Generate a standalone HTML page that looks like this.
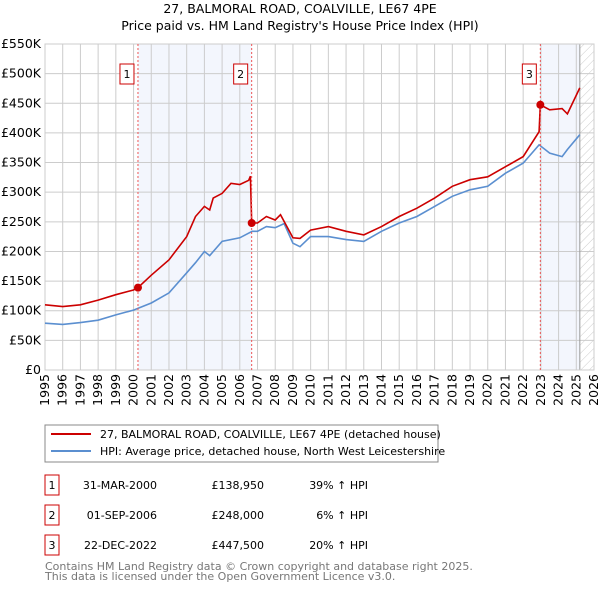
<!DOCTYPE html>
<html><head><meta charset="utf-8"><style>
body{margin:0;background:#fff;font-family:"DejaVu Sans","Liberation Sans",sans-serif;}
svg text{font-family:"DejaVu Sans","Liberation Sans",sans-serif;}
</style></head><body>
<svg id="c" width="600" height="590" xmlns="http://www.w3.org/2000/svg">
<defs><pattern id="hatch" width="6" height="6" patternUnits="userSpaceOnUse" patternTransform="rotate(45)"><line x1="0" y1="0" x2="0" y2="6" stroke="#ccc" stroke-width="1"/></pattern></defs>
<text x="300" y="13" text-anchor="middle" font-size="12.5" fill="#000">27, BALMORAL ROAD, COALVILLE, LE67 4PE</text>
<text x="300" y="30" text-anchor="middle" font-size="12.5" fill="#000">Price paid vs. HM Land Registry's House Price Index (HPI)</text>
<g id="plot"></g>
<g>
<rect x="45" y="425" width="393" height="37" fill="#fff" stroke="#888"/>
<line x1="51" y1="434" x2="91" y2="434" stroke="#cc0000" stroke-width="2"/>
<text x="100" y="438" font-size="11">27, BALMORAL ROAD, COALVILLE, LE67 4PE (detached house)</text>
<line x1="51" y1="451" x2="91" y2="451" stroke="#5b8fd0" stroke-width="2"/>
<text x="100" y="455" font-size="11">HPI: Average price, detached house, North West Leicestershire</text>
</g>
<g id="table" font-size="11"></g>
<text x="45" y="570" font-size="11" fill="#777">Contains HM Land Registry data © Crown copyright and database right 2025.</text>
<text x="45" y="580" font-size="11" fill="#777">This data is licensed under the Open Government Licence v3.0.</text>
</svg>
<script>
const hpiYears=[1995,1996,1997,1998,1999,2000,2001,2002,2003,2003.5,2004,2004.3,2005,2006,2006.7,2007,2007.5,2008,2008.5,2009,2009.4,2010,2011,2012,2013,2014,2015,2016,2017,2018,2019,2020,2021,2022,2022.9,2023.5,2024.2,2024.5,2025.2];
const hpiValues=[79,77,80,84,93,101,113,130,164,181,200,193,217,223,234,234,242,240,247,214,208,225,225,220,217,234,248,259,276,293,304,310,332,349,380,366,360,372,397];
const redYears=[1995,1996,1997,1998,1999,2000,2000.25,2001,2002,2003,2003.5,2004,2004.3,2004.5,2005,2005.5,2006,2006.5,2006.6,2006.67,2007,2007.5,2008,2008.3,2009,2009.4,2010,2011,2012,2013,2014,2015,2016,2017,2018,2019,2020,2021,2022,2022.9,2022.97,2023.5,2024.2,2024.5,2025.2];
const redValues=[110,107,110,118,127,135,138.95,160,186,225,259,276,270,290,298,315,313,320,327,248,248,259,253,262,223,222,236,242,234,228,242,259,273,290,310,321,326,343,360,402,447.5,439,441,432,476];
const saleYears=[2000.25,2006.67,2022.97];
const saleValues=[138.95,248,447.5];
const saleLabels=['1','2','3'];
const saleDates=['31-MAR-2000','01-SEP-2006','22-DEC-2022'];
const salePrices=['£138,950','£248,000','£447,500'];
const saleDiffs=['39% ↑ HPI','6% ↑ HPI','20% ↑ HPI'];
const yTicks=[0,50,100,150,200,250,300,350,400,450,500,550];
const yTickLabels=['£0','£50K','£100K','£150K','£200K','£250K','£300K','£350K','£400K','£450K','£500K','£550K'];
const xTicks=[1995,1996,1997,1998,1999,2000,2001,2002,2003,2004,2005,2006,2007,2008,2009,2010,2011,2012,2013,2014,2015,2016,2017,2018,2019,2020,2021,2022,2023,2024,2025,2026];
const dataEnd=2025.2;

const L=45,R=594,T=44,B=370;
const X=y=>L+(y-1995)/(2026-1995)*(R-L);
const Y=v=>B-v/550*(B-T);
const NS='http://www.w3.org/2000/svg';
const g=document.getElementById('plot');
function mk(t,a,p){const e=document.createElementNS(NS,t);for(const k in a)e.setAttribute(k,a[k]);(p||g).appendChild(e);return e;}
mk('rect',{x:L,y:T,width:R-L,height:B-T,fill:'#fff'});
let s=mk('rect',{x:X(saleYears[0]),y:T,width:X(saleYears[1])-X(saleYears[0]),height:B-T,fill:'#f3f6fd'});


s=mk('rect',{x:X(saleYears[2]),y:T,width:X(dataEnd)-X(saleYears[2]),height:B-T,fill:'#f3f6fd'});


s=mk('rect',{x:X(dataEnd),y:T,width:R-X(dataEnd),height:B-T,fill:'url(#hatch)'});


yTicks.forEach((v,i)=>{mk('line',{x1:L,x2:R,y1:Y(v),y2:Y(v),stroke:'#ccc'});
 const t=mk('text',{x:L-4,y:Y(v)+4,'text-anchor':'end','font-size':'12.5',fill:'#000'});t.textContent=yTickLabels[i];
 
 });
xTicks.forEach(y=>{mk('line',{x1:X(y),x2:X(y),y1:T,y2:B,stroke:'#ccc'});
 const t=mk('text',{transform:`translate(${X(y)+4},${B+4}) rotate(-90)`,'text-anchor':'end','font-size':'12.5',fill:'#000'});t.textContent=y;
 
 });
mk('line',{x1:X(dataEnd),x2:X(dataEnd),y1:T,y2:B,stroke:'#999'});
mk('rect',{x:L,y:T,width:R-L,height:B-T,fill:'none',stroke:'#ccc'});
const pts=(xs,vs)=>xs.map((x,i)=>X(x).toFixed(1)+','+Y(vs[i]).toFixed(1)).join(' ');
let h=mk('polyline',{points:pts(hpiYears,hpiValues),fill:'none',stroke:'#5b8fd0','stroke-width':1.6});


let r=mk('polyline',{points:pts(redYears,redValues),fill:'none',stroke:'#cc0000','stroke-width':1.6});


saleYears.forEach((y,i)=>{
 mk('line',{x1:X(y),x2:X(y),y1:T,y2:B,stroke:'#e55','stroke-dasharray':'2,2'});
 const c=mk('circle',{cx:X(y),cy:Y(saleValues[i]),r:4,fill:'#cc0000'});
 
 
 const b=mk('rect',{x:X(y)-18,y:64,width:14,height:20,fill:'#fff',stroke:'#cc0000'});
 
 
 const t=mk('text',{x:X(y)-11,y:78,'text-anchor':'middle','font-size':'11'});t.textContent=saleLabels[i];
});
const tb=document.getElementById('table');
saleLabels.forEach((l,i)=>{const yy=482+i*30;
 const row=mk('g',{},tb);
 
 
 mk('rect',{x:45,y:yy-7,width:14,height:20,fill:'#fff',stroke:'#cc0000'},row);
 let t=mk('text',{x:52,y:yy+7,'text-anchor':'middle'},row);t.textContent=l;
 t=mk('text',{x:157,y:yy+7,'text-anchor':'end'},row);t.textContent=saleDates[i];
 t=mk('text',{x:264,y:yy+7,'text-anchor':'end'},row);t.textContent=salePrices[i];
 t=mk('text',{x:368,y:yy+7,'text-anchor':'end'},row);t.textContent=saleDiffs[i];
});
</script>
</body></html>
